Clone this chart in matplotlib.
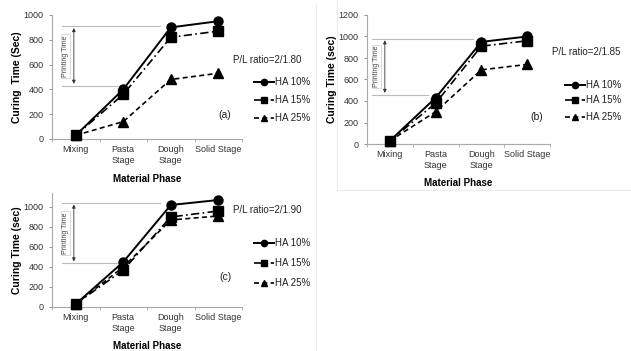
import matplotlib
matplotlib.use("Agg")
import matplotlib.pyplot as plt
from matplotlib.lines import Line2D

plt.rcParams['font.family'] = ['Liberation Sans', 'DejaVu Sans']

categories = ["Mixing", "Pasta\nStage", "Dough\nStage", "Solid Stage"]
series_names = ["HA 10%", "HA 15%", "HA 25%"]

a_ha10 = [30, 400, 900, 950]
a_ha15 = [30, 360, 820, 870]
a_ha25 = [30, 140, 480, 530]

b_ha10 = [30, 430, 950, 1000]
b_ha15 = [30, 380, 910, 960]
b_ha25 = [30, 300, 690, 740]

c_ha10 = [30, 450, 1020, 1070]
c_ha15 = [30, 370, 900, 960]
c_ha25 = [30, 400, 870, 910]

print_a = [430, 910]
print_b = [460, 980]
print_c = [440, 1040]

ratios = ["P/L ratio=2/1.80", "P/L ratio=2/1.85", "P/L ratio=2/1.90"]
tags = ["(a)", "(b)", "(c)"]
ylabels = ["Curing  Time (Sec)", "Curing Time (sec)", "Curing Time (sec)"]

W, H = 631, 351
fig = plt.figure(figsize=(W / 100, H / 100), dpi=100)
fig.patch.set_facecolor("white")

# faint panel borders
fig.add_artist(Line2D([316 / W, 316 / W], [0, 1 - 5 / H], color="#ececec", lw=0.8))
fig.add_artist(Line2D([337 / W, 337 / W], [1 - 190 / H, 1], color="#ececec", lw=0.8))
fig.add_artist(Line2D([337 / W, 1], [1 - 190 / H, 1 - 190 / H], color="#ececec", lw=0.8))

styles = [
    dict(linestyle="-", marker="o", lw=1.4, ms=6.5),
    dict(linestyle=(0, (5, 2, 1, 2)), marker="s", lw=1.2, ms=6.5),
    dict(linestyle=(0, (3, 2)), marker="^", lw=1.2, ms=6.5),
]


def px_axes(x0, x1, ytop, ybot):
    return fig.add_axes([x0 / W, 1 - ybot / H, (x1 - x0) / W, (ybot - ytop) / H])


panels = [
    dict(box=(52, 242, 15, 139), ylim=1000, yticks=range(0, 1001, 200), data=[a_ha10, a_ha15, a_ha25],
         pr=print_a, line_x=(-0.29, 1.77, 0.87), arrow_x=-0.04, text_x=-0.22,
         ratio_pos=(233, 60), tag_pos=(225, 115), leg_y=(82, 100, 118), leg_x=262,
         xlab_y=179),
    dict(box=(367, 550, 15, 144), ylim=1200, yticks=range(0, 1201, 200), data=[b_ha10, b_ha15, b_ha25],
         pr=print_b, line_x=(-0.39, 1.82, 0.83), arrow_x=-0.11, text_x=-0.30,
         ratio_pos=(552, 52), tag_pos=(537, 117), leg_y=(85, 100, 117), leg_x=573,
         xlab_y=183),
    dict(box=(52, 242, 193, 307), ylim=1140, yticks=range(0, 1001, 200), data=[c_ha10, c_ha15, c_ha25],
         pr=print_c, line_x=(-0.29, 1.77, 0.87), arrow_x=-0.04, text_x=-0.22,
         ratio_pos=(233, 210), tag_pos=(225, 277), leg_y=(243, 263, 283), leg_x=262,
         xlab_y=346),
]

x = list(range(len(categories)))
for i, p in enumerate(panels):
    ax = px_axes(*p["box"])
    for d, st in zip(p["data"], styles):
        ax.plot(x, d, color="black", linestyle=st["linestyle"], marker=st["marker"],
                lw=st["lw"], ms=st["ms"], zorder=3, clip_on=False)
    ax.set_xlim(-0.5, 3.5)
    ax.set_ylim(0, p["ylim"])
    ax.set_yticks(list(p["yticks"]))
    ax.set_xticks(x)
    ax.set_xticklabels(categories, fontsize=6.5, color="#333333", linespacing=1.3)
    ax.set_xticks([-0.5, 0.5, 1.5, 2.5, 3.5], minor=True)
    ax.tick_params(axis="x", which="minor", length=2.5, color="#aaaaaa")
    ax.tick_params(axis="y", labelsize=6.5, length=2.5, colors="#999999", labelcolor="#333333")
    ax.tick_params(axis="x", which="major", length=0, pad=4)
    for s in ["top", "right"]:
        ax.spines[s].set_visible(False)
    for s in ["left", "bottom"]:
        ax.spines[s].set_color("#aaaaaa")
        ax.spines[s].set_linewidth(0.8)
    ax.set_ylabel(ylabels[i], fontsize=7.5, fontweight="bold", labelpad=1.5)

    lo, hi = p["pr"]
    x0, xt, xb = p["line_x"]
    ax.plot([x0, xt], [hi, hi], color="#bbbbbb", lw=0.8, zorder=1)
    ax.plot([x0, xb], [lo, lo], color="#bbbbbb", lw=0.8, zorder=1)
    ax.annotate("", xy=(p["arrow_x"], hi - 15), xytext=(p["arrow_x"], lo + 15),
                arrowprops=dict(arrowstyle="<|-|>", color="#333333", lw=0.6,
                                mutation_scale=5, shrinkA=0, shrinkB=0))
    ax.text(p["text_x"], (lo + hi) / 2, "Printing Time", rotation=90, fontsize=5,
            ha="center", va="center", color="#444444",
            bbox=dict(boxstyle="square,pad=0.15", fc="white", ec="#cccccc", lw=0.5))

    fig.text(p["ratio_pos"][0] / W, 1 - p["ratio_pos"][1] / H, ratios[i],
             fontsize=7, ha="left", va="center", color="#222222")
    fig.text(p["tag_pos"][0] / W, 1 - p["tag_pos"][1] / H, tags[i],
             fontsize=7.5, ha="center", va="center", color="#222222")
    cx = (p["box"][0] + p["box"][1]) / 2
    fig.text(cx / W, 1 - p["xlab_y"] / H, "Material Phase", fontsize=7,
             fontweight="bold", ha="center", va="center")

    handles = [Line2D([0], [0], color="black", linestyle=st["linestyle"], marker=st["marker"],
                      lw=st["lw"], ms=4.5) for st in styles]
    for h, name, ly in zip(handles, series_names, p["leg_y"]):
        leg = fig.legend([h], [name], loc="center left",
                         bbox_to_anchor=(p["leg_x"] / W - 0.012, 1 - ly / H),
                         frameon=False, fontsize=7, handlelength=2.0, handletextpad=0.1,
                         borderpad=0, borderaxespad=0)
        for t in leg.get_texts():
            t.set_color("#222222")

fig.savefig("out.png", dpi=100, facecolor="white")
